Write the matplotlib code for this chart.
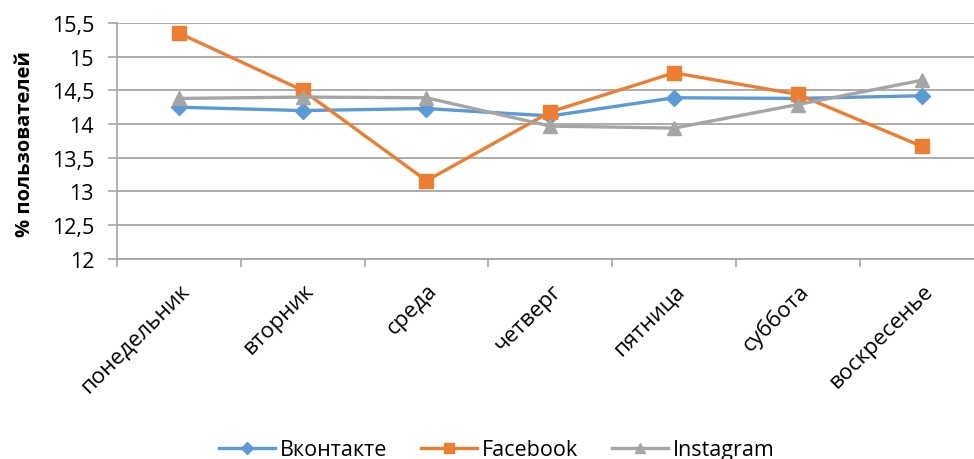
import matplotlib
matplotlib.use("Agg")
import matplotlib.pyplot as plt
from matplotlib.ticker import FuncFormatter, MultipleLocator

plt.rcParams["font.family"] = ["Open Sans", "DejaVu Sans"]

days = ["понедельник", "вторник", "среда", "четверг", "пятница", "суббота", "воскресенье"]
vk = [14.25, 14.20, 14.23, 14.12, 14.39, 14.38, 14.42]
fb = [15.35, 14.50, 13.16, 14.18, 14.76, 14.44, 13.67]
ig = [14.38, 14.40, 14.39, 13.97, 13.94, 14.29, 14.65]

BLUE, ORANGE, GRAY = "#5b9bd5", "#ed7d31", "#a5a5a5"
GRID = "#a6a6a6"

fig = plt.figure(figsize=(9.74, 4.6), dpi=100)
ax = fig.add_axes([0.120, 0.435, 0.890, 0.513])

x = range(len(days))
ax.plot(x, vk, color=BLUE, lw=2.4, marker="D", ms=8.5, label="Вконтакте")
ax.plot(x, fb, color=ORANGE, lw=2.4, marker="s", ms=10.5, label="Facebook")
ax.plot(x, ig, color=GRAY, lw=2.4, marker="^", ms=10.5, label="Instagram")

ax.set_ylim(12, 15.5)
ax.yaxis.set_major_locator(MultipleLocator(0.5))
ax.yaxis.set_major_formatter(FuncFormatter(lambda v, p: f"{v:g}".replace(".", ",")))
ax.set_xlim(-0.5, len(days) - 0.5)
ax.set_xticks(list(x))
ax.set_xticklabels(days, rotation=45, ha="right", rotation_mode="anchor", fontsize=16)
ax.set_xticks([i - 0.5 for i in range(len(days) + 1)], minor=True)
ax.tick_params(axis="x", which="major", length=0, pad=15)
ax.tick_params(axis="x", which="minor", length=6, color=GRID, width=1.2)
ax.tick_params(axis="y", length=6.5, color=GRID, width=1.2, labelsize=15.5, pad=10)

ax.grid(True, axis="y", color=GRID, lw=1.3)
ax.set_axisbelow(True)
for s in ("top", "right"):
    ax.spines[s].set_visible(False)
ax.spines["left"].set_color(GRID)
ax.spines["left"].set_linewidth(1.2)
ax.spines["bottom"].set_color(GRID)
ax.spines["bottom"].set_linewidth(1.3)

ax.set_ylabel("% пользователей", fontsize=14.5, fontweight="bold")
ax.yaxis.set_label_coords(-0.095, 0.49)

fig.legend(loc="lower center", bbox_to_anchor=(0.51, -0.045), ncol=3, frameon=False,
           fontsize=15.5, handlelength=2.6, handletextpad=0.2, columnspacing=1.6,
           markerscale=0.75)

fig.savefig("out.png", dpi=100, facecolor="white")
